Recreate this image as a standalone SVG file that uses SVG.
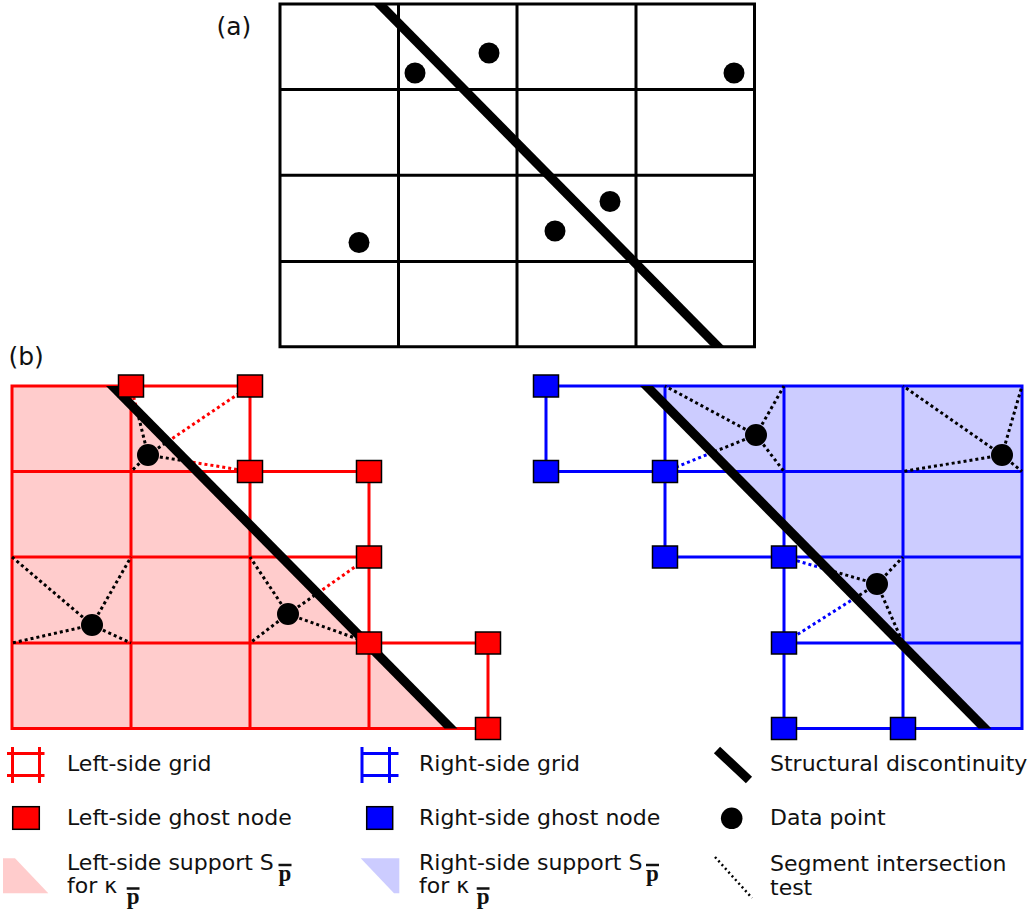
<svg xmlns="http://www.w3.org/2000/svg" width="1032" height="913" viewBox="0 0 1032 913">
<style>
.bg{fill:#fff}
.ga{stroke:#000;stroke-width:3;fill:none;stroke-linecap:square}
.gr{stroke:#ff0000;stroke-width:3;fill:none;stroke-linecap:square}
.gb{stroke:#0000ff;stroke-width:3;fill:none;stroke-linecap:square}
.dk{stroke:#000;stroke-width:3;stroke-dasharray:3 3;fill:none}
.dr{stroke:#ff0000;stroke-width:3;stroke-dasharray:3 3;fill:none}
.db{stroke:#0000ff;stroke-width:3;stroke-dasharray:3 3;fill:none}
.ghr{fill:#ff0000;stroke:#000;stroke-width:1.5}
.ghb{fill:#0000ff;stroke:#000;stroke-width:1.5}
.pt{fill:#000}
.disc{fill:#000}
.shr{fill:#ffcccc}
.shb{fill:#ccccff}
.t{font-family:"DejaVu Sans",sans-serif;font-size:22px;fill:#111}
.lab{font-family:"DejaVu Sans",sans-serif;font-size:25px;fill:#111}
.p{font-family:"Liberation Serif","DejaVu Serif",serif;font-weight:bold;font-size:23px;fill:#111}
.bar{stroke:#111;stroke-width:2.5}
</style>
<rect class="bg" x="0" y="0" width="1032" height="913"/>

<g id="panel-a">
  <text class="lab" x="216.5" y="35">(a)</text>
  <g id="grid-a">
    <path class="ga" d="M280,4H754.5V346.7H280Z M398.5,4V346.7 M517,4V346.7 M636,4V346.7 M280,89.5H754.5 M280,175.2H754.5 M280,261.5H754.5"/>
  </g>
  <polygon id="disc-a" class="disc" points="373,4 386,4 724.5,346.7 711.5,346.7"/>
  <g id="points-a">
    <circle class="pt" cx="415" cy="73" r="10.5"/>
    <circle class="pt" cx="489" cy="53" r="10.5"/>
    <circle class="pt" cx="734" cy="73" r="10.5"/>
    <circle class="pt" cx="610" cy="201.5" r="10.5"/>
    <circle class="pt" cx="555" cy="231" r="10.5"/>
    <circle class="pt" cx="359" cy="242.5" r="10.5"/>
  </g>
</g>

<text class="lab" x="8.5" y="365">(b)</text>

<g id="panel-b-left">
  <polygon id="support-left" class="shr" points="12,386 112.5,386 451,728.5 12,728.5"/>
  <g id="grid-left">
    <path class="gr" d="M12,386H250 M12,471.5H369 M12,557H369 M12,643H488 M12,728.5H488 M12,386V728.5 M131,386V728.5 M250,386V728.5 M369,471.5V728.5 M488,643V728.5"/>
  </g>
  <g id="tests-left">
    <path class="dk" d="M148,455L137.3,411.5 M148,455L167.4,441.8 M148,455L186.7,461.3 M148,455L131,471.5"/>
    <path class="dr" d="M137.3,411.5L131,386 M167.4,441.8L250,386 M186.7,461.3L250,471.5"/>
    <path class="dk" d="M92,625L12,557 M92,625L131,557 M92,625L12,643 M92,625L131,643"/>
    <path class="dk" d="M288,614L250,557 M288,614L250,643 M288,614L369,643 M288,614L317.6,593.2"/>
    <path class="dr" d="M317.6,593.2L369,557"/>
  </g>
  <polygon id="disc-left" class="disc" points="106,386 119,386 457.5,728.5 444.5,728.5"/>
  <g id="ghost-left">
    <rect class="ghr" x="118.5" y="375" width="25" height="22"/>
    <rect class="ghr" x="237.5" y="375" width="25" height="22"/>
    <rect class="ghr" x="237.5" y="460.5" width="25" height="22"/>
    <rect class="ghr" x="356.5" y="460.5" width="25" height="22"/>
    <rect class="ghr" x="356.5" y="546" width="25" height="22"/>
    <rect class="ghr" x="356.5" y="632" width="25" height="22"/>
    <rect class="ghr" x="475.5" y="632" width="25" height="22"/>
    <rect class="ghr" x="475.5" y="717.5" width="25" height="22"/>
  </g>
  <g id="points-left">
    <circle class="pt" cx="148" cy="455" r="11"/>
    <circle class="pt" cx="92" cy="625" r="11"/>
    <circle class="pt" cx="288" cy="614" r="11"/>
  </g>
</g>

<g id="panel-b-right">
  <polygon id="support-right" class="shb" points="646.5,386 1022,386 1022,728.5 985,728.5"/>
  <g id="grid-right">
    <path class="gb" d="M546,386H1022 M546,471.5H1022 M665,557H1022 M784,643H1022 M784,728.5H1022 M546,386V471.5 M665,386V557 M784,386V728.5 M903,386V728.5 M1022,386V728.5"/>
  </g>
  <g id="tests-right">
    <path class="dk" d="M756,435L665,386 M756,435L784,386 M756,435L784,471.5 M756,435L712.1,452.6"/>
    <path class="db" d="M712.1,452.6L665,471.5"/>
    <path class="dk" d="M1002,455L903,386 M1002,455L1022,386 M1002,455L903,471.5 M1002,455L1022,471.5"/>
    <path class="dk" d="M877,584L903,557 M877,584L903,643 M877,584L828.6,570 M877,584L855.9,597.4"/>
    <path class="db" d="M828.6,570L784,557 M855.9,597.4L784,643"/>
  </g>
  <polygon id="disc-right" class="disc" points="640,386 653,386 991.5,728.5 978.5,728.5"/>
  <g id="ghost-right">
    <rect class="ghb" x="533.5" y="375" width="25" height="22"/>
    <rect class="ghb" x="533.5" y="460.5" width="25" height="22"/>
    <rect class="ghb" x="652.5" y="460.5" width="25" height="22"/>
    <rect class="ghb" x="652.5" y="546" width="25" height="22"/>
    <rect class="ghb" x="771.5" y="546" width="25" height="22"/>
    <rect class="ghb" x="771.5" y="632" width="25" height="22"/>
    <rect class="ghb" x="771.5" y="717.5" width="25" height="22"/>
    <rect class="ghb" x="890.5" y="717.5" width="25" height="22"/>
  </g>
  <g id="points-right">
    <circle class="pt" cx="756" cy="435" r="11"/>
    <circle class="pt" cx="1002" cy="455" r="11"/>
    <circle class="pt" cx="877" cy="584" r="11"/>
  </g>
</g>

<g id="legend">
  <g id="leg-left-grid">
    <path class="gr" d="M12.5,747V783 M39.5,747V783 M7,753.5H44.5 M7,775.5H44.5" style="stroke-linecap:butt"/>
    <text class="t" x="67" y="771">Left-side grid</text>
  </g>
  <g id="leg-right-grid">
    <path class="gb" d="M362,747V783 M389.5,747V783 M361,753.5H398.5 M361,775.5H398.5" style="stroke-linecap:butt"/>
    <text class="t" x="419" y="771">Right-side grid</text>
  </g>
  <g id="leg-disc">
    <line x1="717" y1="750" x2="749" y2="780" stroke="#000" stroke-width="9"/>
    <text class="t" x="770" y="771">Structural discontinuity</text>
  </g>
  <g id="leg-left-ghost">
    <rect class="ghr" x="12.7" y="806.7" width="26.6" height="22.6"/>
    <text class="t" x="67" y="825">Left-side ghost node</text>
  </g>
  <g id="leg-right-ghost">
    <rect class="ghb" x="366.7" y="806.7" width="26" height="22.6"/>
    <text class="t" x="419" y="825">Right-side ghost node</text>
  </g>
  <g id="leg-point">
    <circle class="pt" cx="731.7" cy="818.3" r="10.8"/>
    <text class="t" x="770" y="825">Data point</text>
  </g>
  <g id="leg-left-support">
    <polygon class="shr" points="3,858.3 15,858.3 48.3,893.3 3,893.3"/>
    <text class="t" x="67" y="869.5">Left-side support S</text>
    <text class="p" x="278.5" y="881">p</text>
    <line class="bar" x1="278.5" y1="865" x2="291.5" y2="865"/>
    <text class="t" x="67" y="892.5">for κ</text>
    <text class="p" x="126.7" y="903.5">p</text>
    <line class="bar" x1="126.7" y1="888.5" x2="139.5" y2="888.5"/>
  </g>
  <g id="leg-right-support">
    <polygon class="shb" points="360.7,858.3 399.3,858.3 399.3,893.3 394,893.3"/>
    <text class="t" x="419" y="869.5">Right-side support S</text>
    <text class="p" x="646" y="881">p</text>
    <line class="bar" x1="646" y1="865" x2="659" y2="865"/>
    <text class="t" x="419" y="892.5">for κ</text>
    <text class="p" x="476.7" y="903.5">p</text>
    <line class="bar" x1="476.7" y1="888.5" x2="489.5" y2="888.5"/>
  </g>
  <g id="leg-test">
    <line x1="715" y1="857" x2="752" y2="898" stroke="#000" stroke-width="2.5" stroke-dasharray="2 3"/>
    <text class="t" x="770" y="870.5">Segment intersection</text>
    <text class="t" x="770" y="894.5">test</text>
  </g>
</g>
</svg>
